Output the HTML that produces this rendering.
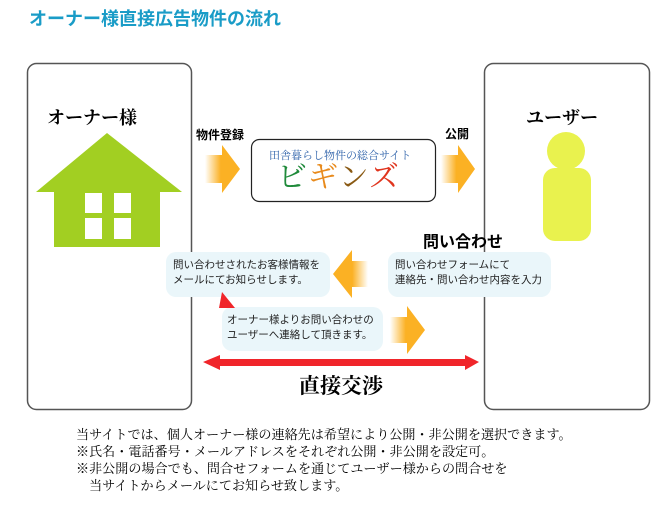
<!DOCTYPE html>
<html><head><meta charset="utf-8"><style>
body{margin:0;background:#fff;width:671px;height:518px;overflow:hidden;position:relative;font-family:"Liberation Sans","Noto Sans CJK JP",sans-serif}
.a{position:absolute;white-space:nowrap}
.bub{position:absolute;background:#eaf6fa;border-radius:10px;font-size:10.5px;line-height:15px;color:#222;padding:6px 0 0 7px;box-sizing:border-box}
.note{position:absolute;left:76px;top:426px;font-family:"Liberation Serif","Noto Serif CJK JP",serif;font-size:13.1px;line-height:17px;color:#000;white-space:pre}
</style></head><body>
<svg width="671" height="518" style="position:absolute;left:0;top:0">
<defs>
<linearGradient id="gr" x1="0" x2="1"><stop offset="0" stop-color="#fbb124" stop-opacity="0"/><stop offset="0.45" stop-color="#fbb124"/></linearGradient>
<linearGradient id="gl" x1="1" x2="0"><stop offset="0" stop-color="#fbb124" stop-opacity="0"/><stop offset="0.45" stop-color="#fbb124"/></linearGradient>
</defs>
<rect x="27.5" y="63.5" width="164" height="346" rx="9" fill="#fff" stroke="#555" stroke-width="1.5"/>
<rect x="484.5" y="63.5" width="165" height="346" rx="9" fill="#fff" stroke="#555" stroke-width="1.5"/>
<polygon points="107,133 182,192 36,192" fill="#a2cf22"/>
<rect x="54" y="191" width="106" height="56" fill="#a2cf22"/>
<rect x="85" y="193" width="17" height="20" fill="#fff"/><rect x="114" y="193" width="17" height="20" fill="#fff"/>
<rect x="85" y="218" width="17" height="21" fill="#fff"/><rect x="114" y="218" width="17" height="21" fill="#fff"/>
<circle cx="566" cy="151" r="19" fill="#e9f24e"/>
<rect x="543" y="168" width="48" height="73" rx="12" fill="#e9f24e"/>
<rect x="251.5" y="139.5" width="184" height="62" rx="8" fill="#fff" stroke="#222" stroke-width="1.2"/>
<polygon points="205,155 222,155 222,145 240,169 222,193 222,183 205,183" fill="url(#gr)"/>
<polygon points="441,155 458,155 458,145 475,169 458,193 458,183 441,183" fill="url(#gr)"/>
<polygon points="368,261 352,261 352,250 333,274 352,298 352,287 368,287" fill="url(#gl)"/>
<polygon points="390,317 407,317 407,306 425,330 407,354 407,343 390,343" fill="url(#gr)"/>
<polygon points="203,362 220,355 220,359 465,359 465,355 479,362 465,370 465,366 220,366 220,370" fill="#f0252a"/>
</svg>
<div class="a" style="left:29px;top:5px;font-size:18px;font-weight:bold;color:#1a9cc7">オーナー様直接広告物件の流れ</div>
<div class="a" style="left:47px;top:104px;font-size:18px;font-weight:bold;font-family:'Liberation Serif','Noto Serif CJK JP',serif">オーナー様</div>
<div class="a" style="left:526px;top:104px;font-size:18px;font-weight:bold;font-family:'Liberation Serif','Noto Serif CJK JP',serif">ユーザー</div>
<div class="a" style="left:196px;top:126px;font-size:12px;font-weight:bold">物件登録</div>
<div class="a" style="left:445px;top:125px;font-size:12px;font-weight:bold">公開</div>
<div class="a" style="left:269px;top:147px;font-size:11px;color:#2a5fa8;font-family:'Liberation Serif','Noto Serif CJK JP',serif">田舎暮らし物件の総合サイト</div>
<div class="a" style="left:277px;top:160px;font-size:30px;line-height:36px;font-family:'Liberation Serif','Noto Serif CJK JP',serif;letter-spacing:1px"><span style="color:#1f8a3a">ビ</span><span style="color:#e88a1c">ギ</span><span style="color:#8a5a14">ン</span><span style="color:#e0351e">ズ</span></div>
<div class="bub" style="left:166px;top:252px;width:164px;height:45px">問い合わせされたお客様情報を<br>メールにてお知らせします。</div>
<div class="bub" style="left:388px;top:252px;width:163px;height:45px">問い合わせフォームにて<br>連絡先・問い合わせ内容を入力</div>
<div class="bub" style="left:222px;top:307px;width:161px;height:44px;padding-left:5px">オーナー様よりお問い合わせの<br>ユーザーへ連絡して頂きます。</div>
<div class="a" style="left:423px;top:233px;font-size:16px;line-height:20px;font-weight:bold">問い合わせ</div>
<svg width="671" height="518" style="position:absolute;left:0;top:0"><polygon points="222,292 235,308 219,308" fill="#f0252a"/></svg>
<div class="a" style="left:299px;top:370px;font-size:21px;font-weight:bold;font-family:'Liberation Serif','Noto Serif CJK JP',serif">直接交渉</div>
<div class="note">当サイトでは、個人オーナー様の連絡先は希望により公開・非公開を選択できます。
※氏名・電話番号・メールアドレスをそれぞれ公開・非公開を設定可。
※非公開の場合でも、問合せフォームを通じてユーザー様からの問合せを
　当サイトからメールにてお知らせ致します。</div>
</body></html>
